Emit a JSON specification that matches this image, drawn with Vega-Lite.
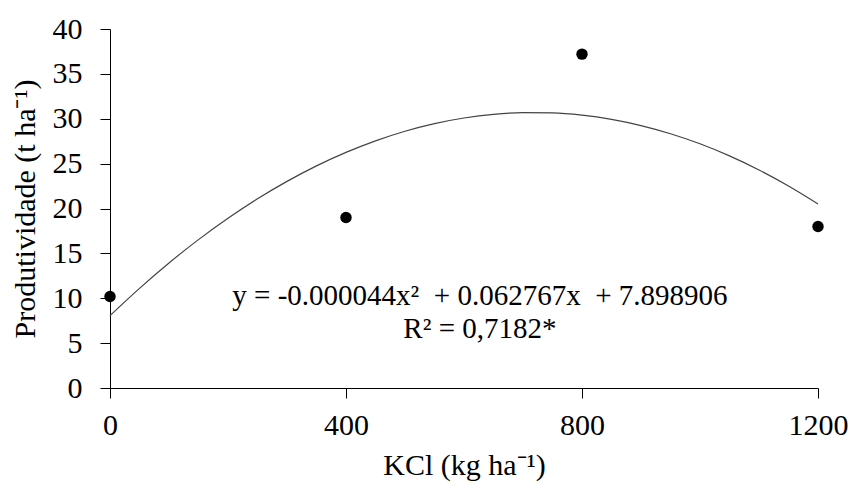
{
  "$schema": "https://vega.github.io/schema/vega-lite/v6.json",
  "width": 708,
  "height": 359,
  "autosize": {"type": "none"},
  "padding": {"left": 110, "top": 29, "right": 35, "bottom": 95},
  "background": "white",
  "config": {
    "view": {"stroke": null},
    "font": "Liberation Serif",
    "axis": {
      "grid": false,
      "domainColor": "black",
      "tickColor": "black",
      "labelColor": "black",
      "titleColor": "black",
      "labelFont": "Liberation Serif",
      "titleFont": "Liberation Serif",
      "labelFontSize": 30,
      "titleFontSize": 30,
      "titleFontWeight": "normal",
      "tickSize": 10,
      "domainWidth": 1,
      "tickWidth": 1
    }
  },
  "datasets": {
    "obs": [
      {"kcl": 0, "prod": 10.2},
      {"kcl": 400, "prod": 19.0},
      {"kcl": 800, "prod": 37.2},
      {"kcl": 1200, "prod": 18.0}
    ],
    "fit": [
      {"kcl": 0, "prod": 8.06},
      {"kcl": 50, "prod": 11.10},
      {"kcl": 100, "prod": 13.93},
      {"kcl": 150, "prod": 16.53},
      {"kcl": 200, "prod": 18.91},
      {"kcl": 250, "prod": 21.08},
      {"kcl": 300, "prod": 23.02},
      {"kcl": 350, "prod": 24.75},
      {"kcl": 400, "prod": 26.25},
      {"kcl": 450, "prod": 27.54},
      {"kcl": 500, "prod": 28.61},
      {"kcl": 550, "prod": 29.46},
      {"kcl": 600, "prod": 30.08},
      {"kcl": 650, "prod": 30.49},
      {"kcl": 700, "prod": 30.68},
      {"kcl": 750, "prod": 30.65},
      {"kcl": 800, "prod": 30.40},
      {"kcl": 850, "prod": 29.93},
      {"kcl": 900, "prod": 29.24},
      {"kcl": 950, "prod": 28.33},
      {"kcl": 1000, "prod": 27.21},
      {"kcl": 1050, "prod": 25.86},
      {"kcl": 1100, "prod": 24.29},
      {"kcl": 1150, "prod": 22.50},
      {"kcl": 1200, "prod": 20.50}
    ],
    "notes": [
      {"label": "y = -0.000044x\u00b2\u2002+ 0.062767x\u2002+ 7.898906", "line": 1},
      {"label": "R\u00b2 = 0,7182*", "line": 2}
    ]
  },
  "layer": [
    {
      "data": {"name": "fit"},
      "mark": {"type": "line", "color": "#444444", "strokeWidth": 1.2, "interpolate": "monotone"},
      "encoding": {
        "x": {
          "field": "kcl",
          "type": "quantitative",
          "scale": {"domain": [0, 1200], "nice": false},
          "axis": {"values": [0, 400, 800, 1200], "format": "d", "labelPadding": 12, "titlePadding": 10, "labelFlush": false},
          "title": "KCl (kg ha⁻¹)"
        },
        "y": {
          "field": "prod",
          "type": "quantitative",
          "scale": {"domain": [0, 40], "nice": false},
          "axis": {"values": [0, 5, 10, 15, 20, 25, 30, 35, 40], "labelPadding": 18, "titlePadding": 12, "labelFlush": false},
          "title": "Produtividade (t ha⁻¹)"
        }
      }
    },
    {
      "data": {"name": "obs"},
      "mark": {"type": "point", "filled": true, "color": "black", "size": 130, "opacity": 1},
      "encoding": {
        "x": {"field": "kcl", "type": "quantitative"},
        "y": {"field": "prod", "type": "quantitative"}
      }
    },
    {
      "data": {"name": "notes"},
      "transform": [{"filter": "datum.line == 1"}],
      "mark": {"type": "text", "font": "Liberation Serif", "fontSize": 29, "color": "black", "align": "center", "baseline": "middle"},
      "encoding": {
        "x": {"datum": 627},
        "y": {"datum": 10.3},
        "text": {"field": "label"}
      }
    },
    {
      "data": {"name": "notes"},
      "transform": [{"filter": "datum.line == 2"}],
      "mark": {"type": "text", "font": "Liberation Serif", "fontSize": 29, "color": "black", "align": "center", "baseline": "middle"},
      "encoding": {
        "x": {"datum": 627},
        "y": {"datum": 6.6},
        "text": {"field": "label"}
      }
    }
  ]
}
